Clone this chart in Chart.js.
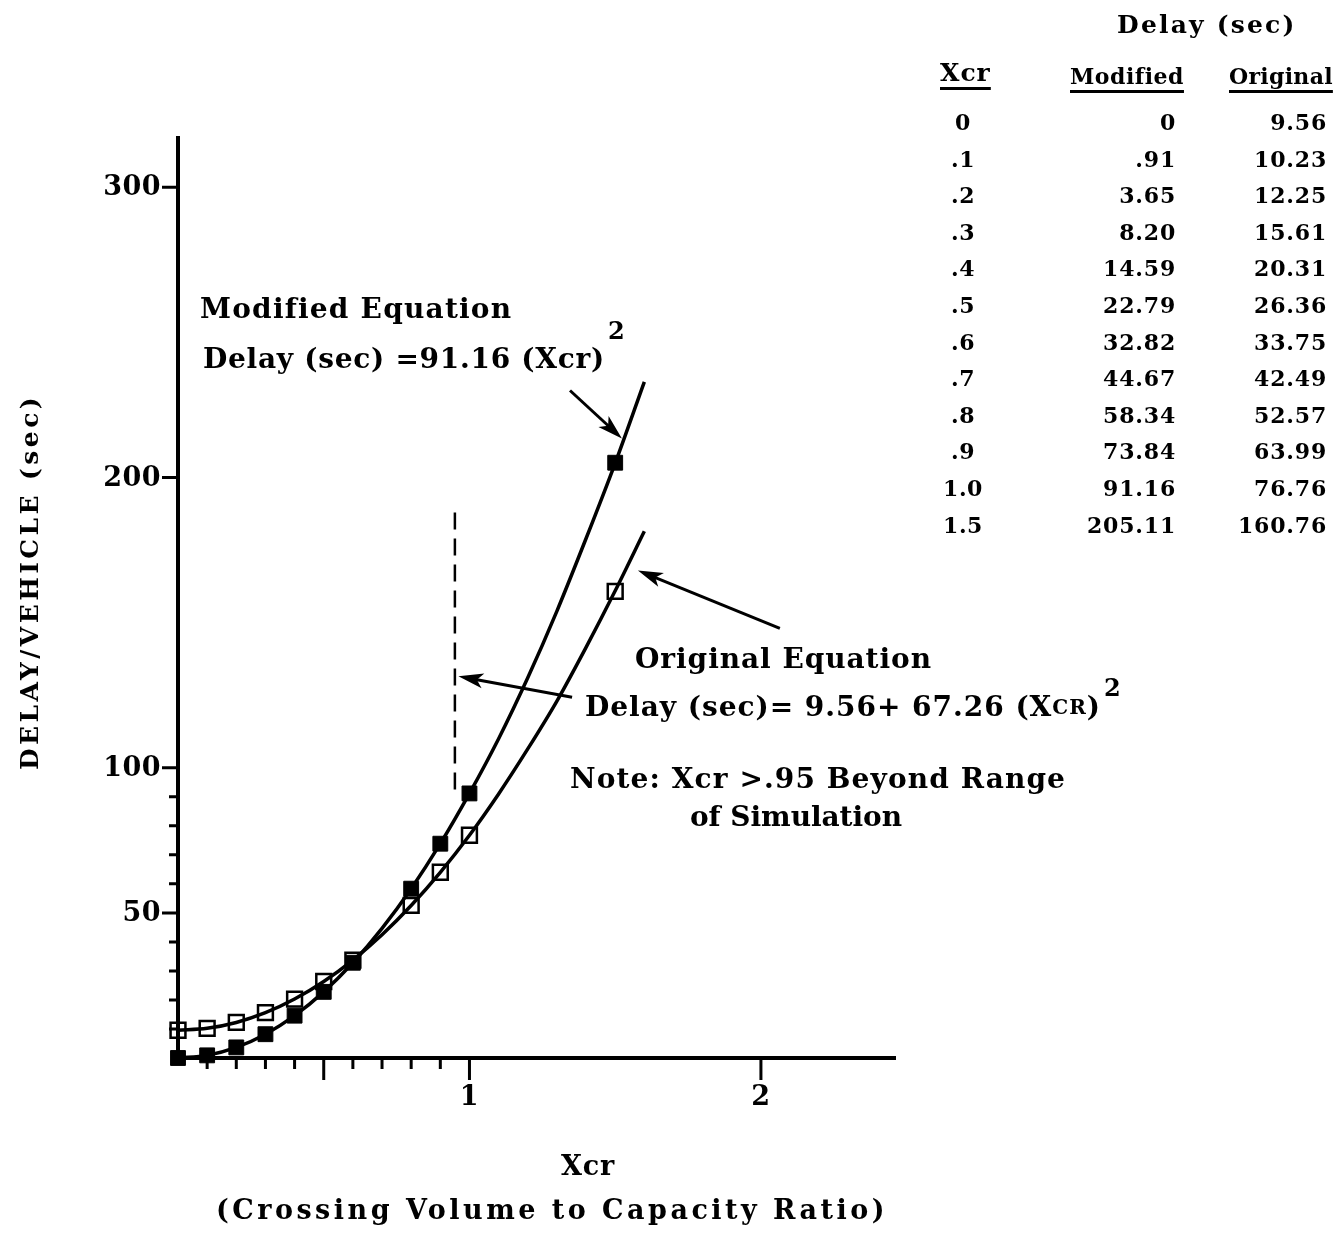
<!DOCTYPE html>
<html>
<head>
<meta charset="utf-8">
<script src="https://cdn.jsdelivr.net/npm/chart.js@4.4.0/dist/chart.umd.min.js"></script>
<style>
  html, body { margin: 0; padding: 0; background: #fff; }
  #wrap { position: relative; width: 1340px; height: 1235px; }
  #chart { position: absolute; left: 0; top: 0; }
  .cell { position: absolute; font-family: "DejaVu Serif", serif; font-weight: bold; color: #000;
          white-space: nowrap; height: 30px; line-height: 30px; }
  .ul { text-decoration: underline; text-decoration-thickness: 3px; text-underline-offset: 6px; }
</style>
</head>
<body>
<div id="wrap"><canvas id="chart" width="1340" height="1235"></canvas></div>
<script>
// table data
const xcr = [0, .1, .2, .3, .4, .5, .6, .7, .8, .9, 1.0, 1.5];
const modifiedDelay = [0, .91, 3.65, 8.20, 14.59, 22.79, 32.82, 44.67, 58.34, 73.84, 91.16, 205.11];
const originalDelay = [9.56, 10.23, 12.25, 15.61, 20.31, 26.36, 33.75, 42.49, 52.57, 63.99, 76.76, 160.76];
// points actually plotted (no marker at .7)
const markerXcr = [0, .1, .2, .3, .4, .5, .6, .8, .9, 1.0, 1.5];
// drawn curves beyond 1.0
const curveTailX = [1.1, 1.2, 1.3, 1.4, 1.5, 1.6];
const modCurveTail = [110, 131, 154, 179, 205, 233];
const origCurveTail = [91, 106.5, 123, 141.5, 161, 181.5];

// axes
const xRange = [0, 2.46];
const yRange = [0, 317];
const xMinorTicks = [.1, .2, .3, .4, .6, .7, .8, .9];
const xMajorTicks = [.5, 1, 2];
const xTickLabels = [1, 2];
const yMinorTicks = [10, 20, 30, 40, 60, 70, 80, 90];
const yMajorTicks = [50, 100, 200, 300];

// annotations in data units: [x1, y1, x2, y2]
const modArrow = [1.345, 230, 1.523, 213.5];
const origArrow = [2.065, 148, 1.578, 168];
const noteArrow = [1.352, 124.3, 0.962, 131.5];
const noteLine = [0.95, 92, 188];

const pts = (xs, ys) => xs.map((x, i) => ({ x: x, y: ys[i] }));
const pick = (vals) => markerXcr.map(x => vals[xcr.indexOf(x)]);
const upTo1 = (vals) => vals.filter((v, i) => xcr[i] <= 1);

const fmtX = v => v === 0 ? '0' : v.toFixed(1).replace(/^0\./, '.');
const fmtD = v => v === 0 ? '0' : v.toFixed(2).replace(/^0\./, '.');

// ---- table on the right (html text)
const wrap = document.getElementById('wrap');
function cell(txt, left, width, cy, size, ls, align, extra) {
  const d = document.createElement('div');
  d.className = 'cell' + (extra ? ' ' + extra : '');
  d.textContent = txt;
  d.style.left = left + 'px';
  d.style.width = width + 'px';
  d.style.top = (cy - 15) + 'px';
  d.style.fontSize = size + 'px';
  d.style.letterSpacing = ls + 'px';
  d.style.textAlign = align;
  wrap.appendChild(d);
}
cell('Delay (sec)', 1117, 220, 25, 25, 2.2, 'left');
cell('Xcr', 940, 80, 73, 25, 1, 'left', 'ul');
cell('Modified', 1070, 140, 76, 22, 0.5, 'left', 'ul');
cell('Original', 1229, 120, 76, 22, 0.3, 'left', 'ul');
xcr.forEach((x, i) => {
  const cy = 122 + i * 36.6;
  cell(fmtX(x), 913, 100, cy, 22, 0.5, 'center');
  cell(fmtD(modifiedDelay[i]), 1040, 136, cy, 22, 0.8, 'right');
  cell(fmtD(originalDelay[i]), 1190, 137, cy, 22, 0.8, 'right');
});

// ---- chart
const font = s => 'bold ' + s + 'px "DejaVu Serif", serif';

function fitText(ctx, str, x, y, w, size) {
  ctx.font = font(size);
  ctx.letterSpacing = '0px';
  const m = ctx.measureText(str).width;
  ctx.letterSpacing = ((w - m) / str.length) + 'px';
  ctx.fillText(str, x, y);
}

// parts: [text, size]; spread over width w
function fitParts(ctx, parts, x, y, w) {
  ctx.letterSpacing = '0px';
  let m = 0, n = 0;
  parts.forEach(p => { ctx.font = font(p[1]); m += ctx.measureText(p[0]).width; n += p[0].length; });
  const ls = (w - m) / n;
  ctx.letterSpacing = ls + 'px';
  let cx = x;
  parts.forEach(p => { ctx.font = font(p[1]); ctx.fillText(p[0], cx, y); cx += ctx.measureText(p[0]).width; });
  return cx;
}

function arrow(ctx, x1, y1, x2, y2) {
  const a = Math.atan2(y2 - y1, x2 - x1), L = 25, W = 7.5;
  const c = Math.cos(a), s = Math.sin(a);
  ctx.beginPath();
  ctx.moveTo(x1, y1);
  ctx.lineTo(x2 - c * L * 0.7, y2 - s * L * 0.7);
  ctx.stroke();
  ctx.beginPath();
  ctx.moveTo(x2, y2);
  ctx.lineTo(x2 - L * c + W * s, y2 - L * s - W * c);
  ctx.lineTo(x2 - L * c * 0.75, y2 - L * s * 0.75);
  ctx.lineTo(x2 - L * c - W * s, y2 - L * s + W * c);
  ctx.closePath();
  ctx.fill();
}

const decor = {
  id: 'decor',
  afterDraw(chart) {
    const { ctx, scales: { x, y } } = chart;
    const X = v => x.getPixelForValue(v), Y = v => y.getPixelForValue(v);
    const x0 = X(0), y0 = Y(0);
    ctx.save();
    ctx.strokeStyle = '#000';
    ctx.fillStyle = '#000';
    ctx.lineCap = 'butt';

    // ticks
    ctx.lineWidth = 3;
    ctx.beginPath();
    yMinorTicks.forEach(v => { ctx.moveTo(x0 - 9, Y(v)); ctx.lineTo(x0, Y(v)); });
    yMajorTicks.forEach(v => { ctx.moveTo(x0 - 16, Y(v)); ctx.lineTo(x0, Y(v)); });
    xMinorTicks.forEach(v => { ctx.moveTo(X(v), y0); ctx.lineTo(X(v), y0 + 11); });
    xMajorTicks.forEach(v => { ctx.moveTo(X(v), y0); ctx.lineTo(X(v), y0 + 22); });
    ctx.stroke();

    // tick labels
    ctx.textBaseline = 'middle';
    ctx.font = font(27);
    ctx.letterSpacing = '0.5px';
    ctx.textAlign = 'right';
    yMajorTicks.forEach(v => ctx.fillText(String(v), x0 - 17, Y(v) + 1));
    ctx.textAlign = 'center';
    xTickLabels.forEach(v => ctx.fillText(String(v), X(v), y0 + 40));

    // dashed limit line
    ctx.lineWidth = 2.5;
    ctx.setLineDash([17, 9]);
    ctx.beginPath();
    ctx.moveTo(X(noteLine[0]), Y(noteLine[2]));
    ctx.lineTo(X(noteLine[0]), Y(noteLine[1]));
    ctx.stroke();
    ctx.setLineDash([]);

    // arrows
    ctx.lineWidth = 3;
    [modArrow, origArrow, noteArrow].forEach(a => arrow(ctx, X(a[0]), Y(a[1]), X(a[2]), Y(a[3])));

    // annotation text
    ctx.textAlign = 'left';
    fitText(ctx, 'Modified Equation', 200, 311, 310, 28);
    fitText(ctx, 'Delay (sec) =91.16 (Xcr)', 203, 361, 402, 28);
    ctx.letterSpacing = '0px';
    ctx.font = font(24);
    ctx.fillText('2', 608, 333);

    fitText(ctx, 'Original Equation', 635, 661, 297, 28);
    fitParts(ctx, [['Delay (sec)= 9.56+ 67.26 (X', 28], ['CR', 20], [')', 28]], 585, 709, 516);
    ctx.letterSpacing = '0px';
    ctx.font = font(24);
    ctx.fillText('2', 1104, 690);

    fitText(ctx, 'Note: Xcr >.95 Beyond Range', 570, 781, 496, 28);
    fitText(ctx, 'of Simulation', 690, 819, 212, 28);

    // axis titles
    ctx.textAlign = 'center';
    fitText(ctx, 'Xcr', 588, 1168, 54, 27);
    fitText(ctx, '(Crossing Volume to Capacity Ratio)', 552, 1212, 672, 27);
    ctx.save();
    ctx.translate(31, 582);
    ctx.rotate(-Math.PI / 2);
    fitText(ctx, 'DELAY/VEHICLE (sec)', 0, 0, 376, 25);
    ctx.restore();

    ctx.restore();
  }
};

new Chart(document.getElementById('chart'), {
  type: 'scatter',
  data: {
    datasets: [
      {
        label: 'Modified (curve)', type: 'line',
        data: pts(upTo1(xcr).concat(curveTailX), upTo1(modifiedDelay).concat(modCurveTail)),
        borderColor: '#000', borderWidth: 3.5, pointRadius: 0, fill: false,
        cubicInterpolationMode: 'monotone', clip: false, order: 3
      },
      {
        label: 'Original (curve)', type: 'line',
        data: pts(upTo1(xcr).concat(curveTailX), upTo1(originalDelay).concat(origCurveTail)),
        borderColor: '#000', borderWidth: 3.5, pointRadius: 0, fill: false,
        cubicInterpolationMode: 'monotone', clip: false, order: 3
      },
      {
        label: 'Original', data: pts(markerXcr, pick(originalDelay)),
        pointStyle: 'rect', pointRadius: 10.5, backgroundColor: 'rgba(0,0,0,0)',
        borderColor: '#000', borderWidth: 2.5, clip: false, order: 2
      },
      {
        label: 'Modified', data: pts(markerXcr, pick(modifiedDelay)),
        pointStyle: 'rect', pointRadius: 10.5, backgroundColor: '#000',
        borderColor: '#000', borderWidth: 1, clip: false, order: 1
      }
    ]
  },
  options: {
    responsive: false,
    animation: false,
    events: [],
    layout: { padding: { left: 178, right: 445, top: 138, bottom: 177 } },
    plugins: { legend: { display: false }, tooltip: { enabled: false } },
    scales: {
      x: {
        type: 'linear', min: xRange[0], max: xRange[1],
        grid: { display: false }, ticks: { display: false },
        border: { display: true, color: '#000', width: 4 },
        afterFit: s => { s.height = 0; }
      },
      y: {
        type: 'linear', min: yRange[0], max: yRange[1],
        grid: { display: false }, ticks: { display: false },
        border: { display: true, color: '#000', width: 4 },
        afterFit: s => { s.width = 0; }
      }
    }
  },
  plugins: [decor]
});
</script>
</body>
</html>
